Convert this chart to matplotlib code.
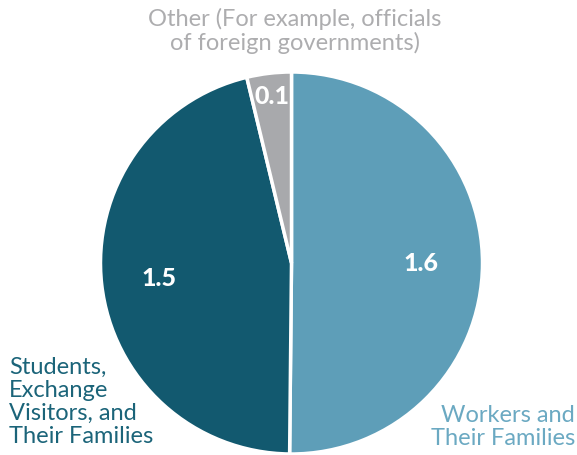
import numpy as np
import matplotlib
matplotlib.use("Agg")
import matplotlib.pyplot as plt

plt.rcParams['font.family'] = ['Lato', 'DejaVu Sans']

# --- data ---
categories = ["Workers and\nTheir Families",
              "Students,\nExchange\nVisitors, and\nTheir Families",
              "Other (For example, officials\nof foreign governments)"]
values = [1.6, 1.47, 0.12]
value_labels = ["1.6", "1.5", "0.1"]
colors = ["#5E9EB8", "#12596F", "#A8A9AC"]
label_colors = ["#6BA9C2", "#1B6479", "#ADADAF"]

W, H = 577, 455
fig = plt.figure(figsize=(W / 100, H / 100), dpi=100)
ax = fig.add_axes([0, 0, 1, 1])

cx, cy, r = 291.5, H - 263, 191
wedges, _ = ax.pie(values, colors=colors, startangle=90, counterclock=False,
                   radius=r, center=(cx, cy), frame=True,
                   wedgeprops=dict(edgecolor='white', linewidth=2.5))
ax.set_xlim(0, W)
ax.set_ylim(0, H)
ax.set_aspect('equal')
ax.axis('off')

# value labels inside the wedges
dists = [0.68, 0.70, 0.88]
for w, lab, d in zip(wedges, value_labels, dists):
    ang = np.deg2rad((w.theta1 + w.theta2) / 2)
    ax.text(cx + d * r * np.cos(ang), cy + d * r * np.sin(ang), lab,
            ha='center', va='center', color='white', fontsize=18,
            fontweight='black')

# category labels
fs = 17
ax.text(575, H - 427, categories[0], ha='right', va='center', fontsize=fs,
        color=label_colors[0], linespacing=1.12)
ax.text(9, H - 402, categories[1], ha='left', va='center', fontsize=fs,
        color=label_colors[1], linespacing=1.12)
ax.text(295, H - 31, categories[2], ha='center', va='center', fontsize=fs,
        color=label_colors[2], linespacing=1.12)

fig.savefig("out.png", dpi=100)
